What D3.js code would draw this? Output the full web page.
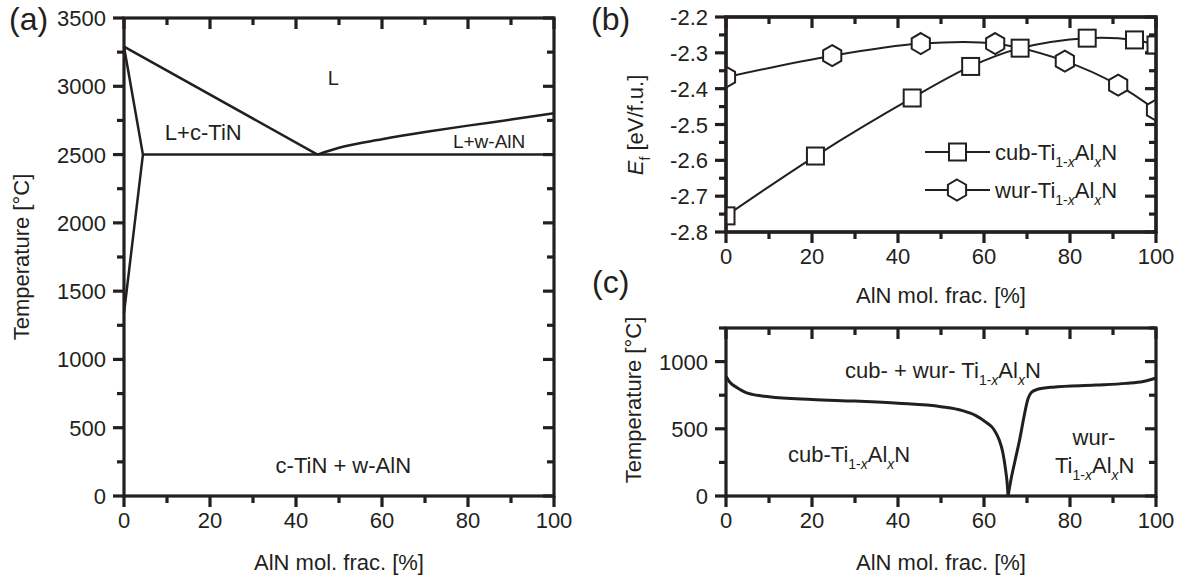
<!DOCTYPE html>
<html>
<head>
<meta charset="utf-8">
<script src="https://cdn.jsdelivr.net/npm/d3@7"></script>
<style>
  body { margin: 0; background: #fff; }
  text { font-family: "Liberation Sans", Arial, sans-serif; fill: #231f20; }
</style>
</head>
<body>
<svg id="fig" width="1191" height="581"></svg>
<script>
// ---- data ----
const xMajor = [0, 20, 40, 60, 80, 100];
const xMinor = [10, 30, 50, 70, 90];

// (a) TiN-AlN phase diagram
const aYMajor = [0, 500, 1000, 1500, 2000, 2500, 3000, 3500];
const aYMinor = [250, 750, 1250, 1750, 2250, 2750, 3250];
const aLiquidusLeft  = [[0, 3290], [45, 2500]];
const aLiquidusRight = [[45, 2500], [50, 2550], [60, 2612], [70, 2665], [80, 2712], [90, 2756], [100, 2802]];
const aSolidus  = [[0, 3290], [4.4, 2500], [0, 1340]];
const aEutectic = [[4.4, 2500], [100, 2500]];

// (b) formation energy
const bYMajor = [-2.8, -2.7, -2.6, -2.5, -2.4, -2.3, -2.2];
const bYMinor = [-2.75, -2.65, -2.55, -2.45, -2.35, -2.25];
const bCub = [[0, -2.755], [20.8, -2.588], [43.3, -2.426], [56.9, -2.338], [68.4, -2.287], [84, -2.259], [95, -2.264], [100, -2.278]];
const bWur = [[0, -2.368], [24.7, -2.308], [45.3, -2.274], [62.6, -2.274], [78.8, -2.323], [91.2, -2.39], [100, -2.46]];

// (c) spinodal / binodal
const cYMajor = [0, 500, 1000];
const cYMinor = [250, 750, 1250];
const cLeft  = [[0, 890], [1, 842], [2.5, 808], [5, 765], [10, 738], [20, 718], [30, 706], [40, 690], [50, 664], [55, 635], [58, 600], [60.5, 548], [62.3, 495], [63.5, 420], [64.4, 320], [65, 200], [65.4, 90], [65.6, 0]];
const cRight = [[65.6, 0], [66.2, 110], [67.2, 260], [68.3, 420], [69.3, 590], [70.2, 720], [71, 770], [72.3, 792], [76, 810], [86, 825], [93, 838], [97, 852], [100, 878]];

const ink = '#231f20';
const svg = d3.select('#fig');

// parts: [text, sub?, italic?]
function richText(sel, parts, size, subSize) {
    let shift = 0;
    parts.forEach(p => {
        const target = p[1] ? size * 0.3 : 0;
        sel.append('tspan')
            .attr('dy', target - shift)
            .attr('font-size', p[1] ? subSize : size)
            .attr('font-style', p[2] ? 'italic' : null)
            .text(p[0]);
        shift = target;
    });
}
const tialn = (pre) => [[pre + 'Ti'], ['1-', 1], ['x', 1, 1], ['Al'], ['x', 1, 1], ['N']];

/**
 *  tick marks along one side as rects; len > 0 points outward
 */
function drawTicks(g, scale, values, side, pos, len) {
    const horiz = side === 'top' || side === 'bottom';
    const dir = (side === 'bottom' || side === 'right') ? 1 : -1;
    const end = pos + dir * len;
    const lo = Math.min(pos, end), span = Math.abs(len);
    g.selectAll(null).data(values).join('rect')
        .attr('x', v => horiz ? scale(v) - 1.6 : lo)
        .attr('y', v => horiz ? lo : scale(v) - 1.6)
        .attr('width', horiz ? 3.2 : span)
        .attr('height', horiz ? span : 3.2)
        .attr('fill', ink);
}

/**
 *  builds one framed panel with origin-like ticks
 */
function makePanel(c) {
    const x = d3.scaleLinear().domain([0, 100]).range([c.left, c.right]);
    const y = d3.scaleLinear().domain(c.yDomain).range([c.bottom, c.top]);
    const g = svg.append('g');
    const fmt = c.fmt || (d => d);

    drawTicks(g, x, xMajor, 'bottom', c.bottom, 11);
    drawTicks(g, x, xMinor, 'bottom', c.bottom, 7);
    drawTicks(g, x, xMajor, 'top', c.top, -11);
    drawTicks(g, x, xMinor, 'top', c.top, -7);
    drawTicks(g, y, c.yMajor, 'left', c.left, 11);
    drawTicks(g, y, c.yMinor, 'left', c.left, 7);
    drawTicks(g, y, c.yMajor, 'right', c.right, -11);
    drawTicks(g, y, c.yMinor, 'right', c.right, -7);

    g.selectAll(null).data(xMajor).join('text')
        .attr('x', d => x(d)).attr('y', c.bottom + 32)
        .attr('text-anchor', 'middle').attr('font-size', 22)
        .text(d => d);
    g.selectAll(null).data(c.yMajor).join('text')
        .attr('x', c.left - 18).attr('y', d => y(d) + 8)
        .attr('text-anchor', 'end').attr('font-size', 22)
        .text(fmt);

    g.append('rect')
        .attr('x', c.left).attr('y', c.top)
        .attr('width', c.right - c.left).attr('height', c.bottom - c.top)
        .attr('fill', 'none').attr('stroke', ink).attr('stroke-width', 3.2);

    g.append('text')
        .attr('x', (c.left + c.right) / 2).attr('y', c.bottom + c.titleGap)
        .attr('text-anchor', 'middle').attr('font-size', 22)
        .text('AlN mol. frac. [%]');

    return { x, y, g };
}

// ---------- (a) ----------
const pa = makePanel({ left: 124, right: 554, top: 18, bottom: 496, titleGap: 74, yDomain: [0, 3500], yMajor: aYMajor, yMinor: aYMinor });
const lineA = d3.line().x(d => pa.x(d[0])).y(d => pa.y(d[1]));
[aLiquidusLeft, aSolidus, aEutectic].forEach(d => {
    pa.g.append('path').attr('d', lineA(d)).attr('fill', 'none').attr('stroke', ink).attr('stroke-width', 2.5);
});
pa.g.append('path').attr('d', lineA.curve(d3.curveMonotoneX)(aLiquidusRight))
    .attr('fill', 'none').attr('stroke', ink).attr('stroke-width', 2.5);

pa.g.append('text').attr('x', pa.x(47.4)).attr('y', pa.y(3009)).attr('font-size', 20).text('L');
pa.g.append('text').attr('x', pa.x(9.5)).attr('y', pa.y(2607)).attr('font-size', 22).text('L+c-TiN');
pa.g.append('text').attr('x', pa.x(76.5)).attr('y', pa.y(2548)).attr('font-size', 19).text('L+w-AlN');
pa.g.append('text').attr('x', pa.x(51)).attr('y', pa.y(170)).attr('text-anchor', 'middle').attr('font-size', 22).text('c-TiN + w-AlN');

svg.append('text').attr('x', 29).attr('y', 257).attr('transform', 'rotate(-90,29,257)')
    .attr('text-anchor', 'middle').attr('font-size', 22).text('Temperature [°C]');
svg.append('text').attr('x', 9).attr('y', 30).attr('font-size', 32).text('(a)');

// ---------- (b) ----------
const pb = makePanel({ left: 726, right: 1156, top: 17, bottom: 232, titleGap: 71, yDomain: [-2.8, -2.2], yMajor: bYMajor, yMinor: bYMinor, fmt: d => d.toFixed(1) });
svg.append('defs').append('clipPath').attr('id', 'clipB')
    .append('rect').attr('x', 726).attr('y', 0).attr('width', 430).attr('height', 260);

const lineB = d3.line().curve(d3.curveCatmullRom).x(d => pb.x(d[0])).y(d => pb.y(d[1]));
const hexPts = r => d3.range(6).map(i => {
    const a = Math.PI / 3 * i - Math.PI / 2;
    return [r * Math.cos(a), r * Math.sin(a)];
});
const hexD = 'M' + hexPts(10.5).join('L') + 'Z';

const bLayer = pb.g.append('g').attr('clip-path', 'url(#clipB)');
bLayer.append('path').attr('d', lineB(bCub)).attr('fill', 'none').attr('stroke', ink).attr('stroke-width', 2);
bLayer.append('path').attr('d', lineB(bWur)).attr('fill', 'none').attr('stroke', ink).attr('stroke-width', 2);
bLayer.selectAll('.hex').data(bWur).join('path').attr('class', 'hex')
    .attr('d', hexD).attr('transform', d => `translate(${pb.x(d[0])},${pb.y(d[1])})`)
    .attr('fill', '#fff').attr('stroke', ink).attr('stroke-width', 2);
bLayer.selectAll('.sq').data(bCub).join('rect').attr('class', 'sq')
    .attr('x', d => pb.x(d[0]) - 8.5).attr('y', d => pb.y(d[1]) - 8.5)
    .attr('width', 17).attr('height', 17)
    .attr('fill', '#fff').attr('stroke', ink).attr('stroke-width', 2);
// frame again on top of the clipped markers
pb.g.append('rect').attr('x', 726).attr('y', 17).attr('width', 430).attr('height', 215)
    .attr('fill', 'none').attr('stroke', ink).attr('stroke-width', 3.2);

// legend
const leg = pb.g.append('g');
[['cub-', 152], ['wur-', 190]].forEach((r, i) => {
    leg.append('line').attr('x1', 925).attr('x2', 990).attr('y1', r[1]).attr('y2', r[1])
        .attr('stroke', ink).attr('stroke-width', 2);
    if (i === 0) {
        leg.append('rect').attr('x', 949).attr('y', r[1] - 8.5).attr('width', 17).attr('height', 17)
            .attr('fill', '#fff').attr('stroke', ink).attr('stroke-width', 2);
    } else {
        leg.append('path').attr('d', hexD).attr('transform', `translate(957,${r[1]})`)
            .attr('fill', '#fff').attr('stroke', ink).attr('stroke-width', 2);
    }
    const t = leg.append('text').attr('x', 995).attr('y', r[1] + 8);
    richText(t, tialn(r[0]), 22, 14);
});

const ef = svg.append('text').attr('x', 643).attr('y', 125).attr('transform', 'rotate(-90,643,125)')
    .attr('text-anchor', 'middle');
richText(ef, [['E', 0, 1], ['f', 1], [' [eV/f.u.]']], 22, 14);
svg.append('text').attr('x', 591).attr('y', 30).attr('font-size', 32).text('(b)');

// ---------- (c) ----------
const pc = makePanel({ left: 726, right: 1156, top: 328, bottom: 496, titleGap: 74, yDomain: [0, 1250], yMajor: cYMajor, yMinor: cYMinor });
const lineC = d3.line().curve(d3.curveMonotoneX).x(d => pc.x(d[0])).y(d => pc.y(d[1]));
[cLeft, cRight].forEach(d => {
    pc.g.append('path').attr('d', lineC(d)).attr('fill', 'none').attr('stroke', ink).attr('stroke-width', 3);
});

richText(pc.g.append('text').attr('x', 845).attr('y', 378), [['cub- + wur- Ti'], ['1-', 1], ['x', 1, 1], ['Al'], ['x', 1, 1], ['N']], 22, 14);
richText(pc.g.append('text').attr('x', 788).attr('y', 462), tialn('cub-'), 22, 14);
pc.g.append('text').attr('x', 1094).attr('y', 445).attr('text-anchor', 'middle').attr('font-size', 22).text('wur-');
richText(pc.g.append('text').attr('x', 1055).attr('y', 473), tialn(''), 22, 14);

svg.append('text').attr('x', 641).attr('y', 400).attr('transform', 'rotate(-90,641,400)')
    .attr('text-anchor', 'middle').attr('font-size', 22).text('Temperature [°C]');
svg.append('text').attr('x', 592).attr('y', 293).attr('font-size', 32).text('(c)');
</script>
</body>
</html>
